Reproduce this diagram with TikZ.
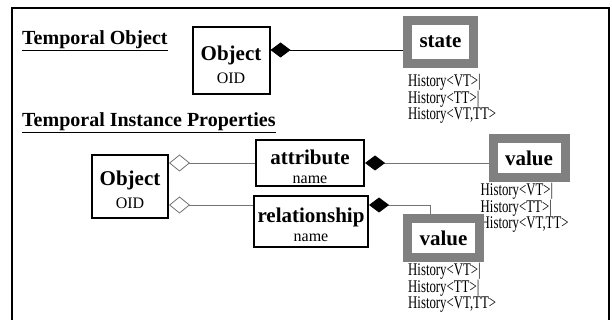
\documentclass[tikz,border=0pt]{standalone}
\usepackage{fontspec}
\setmainfont{Liberation Serif}
\newfontfamily\histfont[FakeStretch=0.72]{Liberation Serif}
\usetikzlibrary{arrows.meta,positioning}

\definecolor{histgray}{gray}{0.5}
\definecolor{linkgray}{gray}{0.45}

\newcommand{\histlines}{History<VT>|\\History<TT>|\\History<VT,TT>}
\newcommand{\classlabel}[2]{{\bfseries\fontsize{21}{22}\selectfont\rule{0pt}{22pt}#1}\\#2}

\tikzset{
  classbox/.style={draw, line width=2pt, align=center, inner sep=1pt, font=\fontsize{16}{23}\selectfont},
  histbox/.style={draw=histgray, line width=9pt, fill=white, align=center, inner sep=1pt,
    font=\bfseries\fontsize{21}{22}\selectfont},
  histlist/.style={align=left, inner sep=0pt, font=\histfont\fontsize{17.8}{16.5}\selectfont},
  heading/.style={anchor=base west, inner sep=0pt, font=\bfseries\fontsize{20}{24}\selectfont},
  link/.style={draw=linkgray, line width=0.8pt},
  comp/.style={link, {Diamond[length=20pt,width=15pt,color=black]}-},
  aggr/.style={link, {Diamond[open,length=21pt,width=17pt,fill=white]}-}
}

\begin{document}
\begin{tikzpicture}[x=1pt,y=-1pt]
  \useasboundingbox (0,0) rectangle (612,320);
  \draw [line width=1.2pt] (12,322) -- (12,8) -- (609,8) -- (609,322);

  % temporal object
  \node [heading] (hdrtemp) at (22,45) {\underline{Temporal Object}};
  \node [classbox, minimum width=77pt, minimum height=67pt] (obj) at (231,61) {\classlabel{Object}{OID}};
  \node [histbox, minimum width=66pt, minimum height=43pt] (state) at (440.5,42) {state};
  \node [histlist, below right=6pt and 5pt of state.south west] (statehist) {\histlines};

  \coordinate (objk) at ([yshift=11pt]obj.east);
  \draw [comp, draw=black] (objk) -- (objk -| state.west);

  % temporal instance properties
  \node [heading] (hdrinst) at (22,127) {\underline{Temporal Instance Properties}};
  \node [classbox, minimum width=76pt, minimum height=63pt] (obj2) at (130,186.5) {\classlabel{Object}{OID}};
  \node [classbox, font=\fontsize{16}{19}\selectfont, minimum width=108pt, minimum height=46pt] (attr) at (310,163) {\classlabel{attribute}{name}};
  \node [classbox, font=\fontsize{16}{19}\selectfont, minimum width=114pt, minimum height=51pt] (rel) at (311,221.5) {\classlabel{relationship}{name}};

  \node [histbox, minimum width=72pt, minimum height=39pt] (val) at (529,158) {value};
  \node [histlist, below right=1pt and -8pt of val.south west] (valhist) {\histlines};
  \node [histbox, minimum width=72pt, minimum height=39pt] (relval) at (443.5,238) {value};
  \node [histlist, below right=1pt and 5pt of relval.south west] (relvalhist) {\histlines};

  \draw [aggr] (attr.west -| obj2.east) -- (attr.west);
  \draw [comp] (attr.east) -- (attr.east -| val.west);

  \coordinate (relk) at ([yshift=-10pt]rel.north);
  \coordinate (relv) at ([xshift=-13pt]relval.north);
  \draw [aggr] (relk -| obj2.east) -- (relk -| rel.west);
  \draw [comp] (relk -| rel.east) -- (relk -| relv) -- (relv);
\end{tikzpicture}
\end{document}
